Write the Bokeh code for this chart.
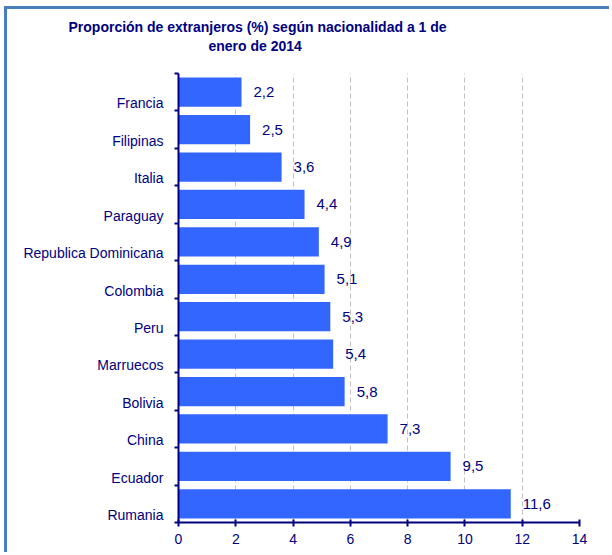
from bokeh.plotting import figure
from bokeh.models import Range1d, FixedTicker, Title, ColumnDataSource
from bokeh.core.properties import value
from bokeh.embed import file_html
from bokeh.resources import INLINE

countries = ["Francia", "Filipinas", "Italia", "Paraguay", "Republica Dominicana",
             "Colombia", "Peru", "Marruecos", "Bolivia", "China", "Ecuador", "Rumania"]
shares = [2.2, 2.5, 3.6, 4.4, 4.9, 5.1, 5.3, 5.4, 5.8, 7.3, 9.5, 11.6]
x_ticks = [0, 2, 4, 6, 8, 10, 12, 14]
title_lines = ["Proporción de extranjeros (%) según nacionalidad a 1 de", "enero de 2014"]

NAVY = "#000080"
FONT = "Liberation Sans"

W, H = 605, 546
BL, BR, BT, BB = 171, 33, 64, 33
n = len(countries)

pos = [n - 1 - i + 0.5 for i in range(n)]  # Francia at top
labels = [f"{v:.1f}".replace(".", ",") for v in shares]
src = ColumnDataSource(dict(y=pos, v=shares, lab=labels))

p = figure(width=W, height=H, output_backend="svg", toolbar_location=None,
           x_range=Range1d(0, x_ticks[-1]), y_range=Range1d(0, n),
           min_border_left=BL, min_border_right=BR, min_border_top=BT, min_border_bottom=BB)
p.outline_line_color = None
p.background_fill_color = "white"
p.border_fill_color = "white"

p.hbar(y="y", right="v", left=0, height=0.78, source=src, fill_color="#3366FF", line_color=None)
p.text(x="v", y="y", text="lab", source=src, x_offset=12, text_baseline="middle",
       text_align="left", text_color=NAVY, text_font=value(FONT), text_font_size="15px")

# x axis
p.xaxis.ticker = FixedTicker(ticks=x_ticks)
p.xaxis.axis_line_color = NAVY
p.xaxis.axis_line_width = 2
p.xaxis.major_tick_line_color = NAVY
p.xaxis.major_tick_line_width = 2
p.xaxis.major_tick_out = 4
p.xaxis.major_tick_in = 3
p.xaxis.minor_tick_line_color = None
p.xaxis.major_label_text_color = NAVY
p.xaxis.major_label_text_font = FONT
p.xaxis.major_label_text_font_size = "14px"
p.xaxis.major_label_standoff = 7

# y axis
label_ticks = [i + 0.2 for i in range(n)]
p.yaxis.ticker = FixedTicker(ticks=label_ticks, minor_ticks=list(range(n + 1)))
p.yaxis.major_label_overrides = {label_ticks[int(pos[i] - 0.5)]: countries[i] for i in range(n)}
p.yaxis.axis_line_color = NAVY
p.yaxis.axis_line_width = 2
p.yaxis.major_tick_line_color = None
p.yaxis.major_tick_out = 0
p.yaxis.major_tick_in = 0
p.yaxis.minor_tick_line_color = NAVY
p.yaxis.minor_tick_line_width = 2
p.yaxis.minor_tick_out = 4
p.yaxis.minor_tick_in = 0
p.yaxis.major_label_text_color = NAVY
p.yaxis.major_label_text_font = FONT
p.yaxis.major_label_text_font_size = "14px"
p.yaxis.major_label_standoff = 11

p.xgrid.ticker = FixedTicker(ticks=x_ticks)
p.xgrid.grid_line_color = "#C0C0C0"
p.xgrid.grid_line_dash = "5 3"
p.xgrid.grid_line_width = 1
p.ygrid.grid_line_color = None

# titles (added bottom line first)
p.add_layout(Title(text=title_lines[1], align="left", offset=30, text_font=FONT,
                   text_font_size="14px", text_font_style="bold", text_color=NAVY, standoff=39), "above")
p.add_layout(Title(text=title_lines[0], align="left", offset=-110, text_font=FONT,
                   text_font_size="14px", text_font_style="bold", text_color=NAVY, standoff=-36), "above")

p.styles = {"border-left": "3px solid #4A7EBB", "border-top": "3px solid #4A7EBB",
            "margin-left": "4px", "margin-top": "6px"}

open("out.html", "w").write(file_html(p, INLINE))
